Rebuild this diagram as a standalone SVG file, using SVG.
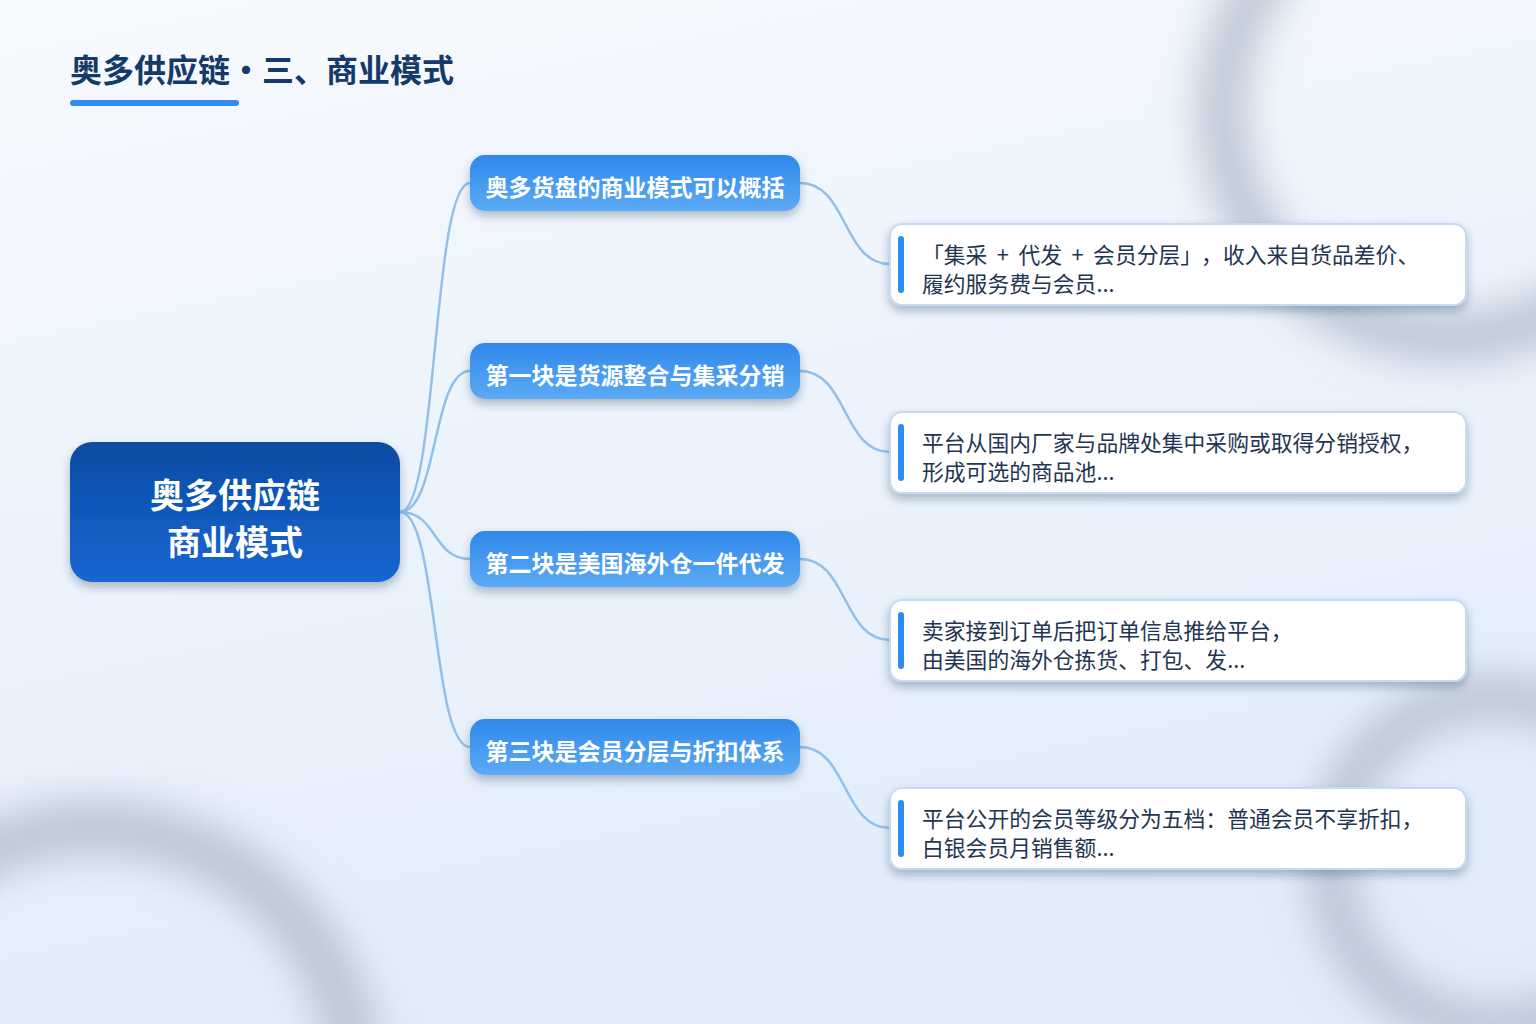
<svg xmlns="http://www.w3.org/2000/svg" width="1536" height="1024" viewBox="0 0 1536 1024">
  <defs>
    <linearGradient id="bg" x1="0" y1="0" x2="0.3" y2="1">
      <stop offset="0" stop-color="#f7fafe"/>
      <stop offset="1" stop-color="#e2edfb"/>
    </linearGradient>
    <linearGradient id="rootGrad" x1="0" y1="0" x2="0" y2="1">
      <stop offset="0" stop-color="#0c4ca1"/>
      <stop offset="1" stop-color="#1666d3"/>
    </linearGradient>
    <linearGradient id="branchGrad" x1="0" y1="0" x2="0" y2="1">
      <stop offset="0" stop-color="#3088ea"/>
      <stop offset="1" stop-color="#5caaf5"/>
    </linearGradient>
    <filter id="blurRing" x="-50%" y="-50%" width="200%" height="200%">
      <feGaussianBlur stdDeviation="20"/>
    </filter>
    <filter id="shadow" x="-10%" y="-20%" width="120%" height="160%">
      <feDropShadow dx="0" dy="5" stdDeviation="5" flood-color="#1e3350" flood-opacity="0.32"/>
    </filter>
    <style>
      .title { font-family: "Noto Sans CJK SC", "Noto Sans", sans-serif; font-weight: 700; font-size: 32px; fill: #143a69; }
      .rootText { font-family: "Noto Sans CJK SC", "Noto Sans", sans-serif; font-weight: 700; font-size: 34px; fill: #ffffff; }
      .branchText { font-family: "Noto Sans CJK SC", "Noto Sans", sans-serif; font-weight: 700; font-size: 23px; fill: #ffffff; }
      .leafText { font-family: "Noto Sans CJK SC", "Noto Sans", sans-serif; font-weight: 400; font-size: 21.8px; fill: #1f3552; }
      .leafBox { fill: #ffffff; stroke: #c3dbf4; stroke-width: 2; }
      .accent { fill: #2f8cf0; }
      .conn { fill: none; stroke: #93c0ea; stroke-width: 2.5; stroke-linecap: round; }
      .ring { fill: none; stroke: #a9b5c5; stroke-opacity: 0.75; }
    </style>
  </defs>

  <!-- background -->
  <rect x="0" y="0" width="1536" height="1024" fill="url(#bg)"/>
  <g id="background-rings" filter="url(#blurRing)">
    <circle class="ring" cx="1450" cy="110" r="228" stroke-width="48"/>
    <circle class="ring" cx="95" cy="1090" r="262" stroke-width="52"/>
    <circle class="ring" cx="1495" cy="862" r="165" stroke-width="44"/>
  </g>

  <!-- title -->
  <g id="title">
    <text class="title" x="70" y="82">奥多供应链・三、商业模式</text>
    <rect x="70" y="100" width="169" height="6" rx="3" fill="#2f8cf0"/>
  </g>

  <!-- connectors -->
  <g id="connectors">
    <path class="conn" d="M400,512 C438,512 432,183 470,183"/>
    <path class="conn" d="M400,512 C438,512 432,371 470,371"/>
    <path class="conn" d="M400,512 C438,512 432,559 470,559"/>
    <path class="conn" d="M400,512 C438,512 432,747 470,747"/>
    <path class="conn" d="M800,183 C848,183 842,264 890,264"/>
    <path class="conn" d="M800,371 C848,371 842,452 890,452"/>
    <path class="conn" d="M800,559 C848,559 842,640 890,640"/>
    <path class="conn" d="M800,747 C848,747 842,828 890,828"/>
  </g>

  <!-- root -->
  <g id="root">
    <rect x="70" y="442" width="330" height="140" rx="22" fill="url(#rootGrad)" filter="url(#shadow)"/>
    <text class="rootText" x="235" y="508" text-anchor="middle">奥多供应链</text>
    <text class="rootText" x="235" y="555" text-anchor="middle">商业模式</text>
  </g>

  <!-- branches -->
  <g id="branch1">
    <rect x="470" y="155" width="330" height="56" rx="15" fill="url(#branchGrad)" filter="url(#shadow)"/>
    <text class="branchText" x="635" y="196" text-anchor="middle">奥多货盘的商业模式可以概括</text>
  </g>
  <g id="branch2">
    <rect x="470" y="343" width="330" height="56" rx="15" fill="url(#branchGrad)" filter="url(#shadow)"/>
    <text class="branchText" x="635" y="384" text-anchor="middle">第一块是货源整合与集采分销</text>
  </g>
  <g id="branch3">
    <rect x="470" y="531" width="330" height="56" rx="15" fill="url(#branchGrad)" filter="url(#shadow)"/>
    <text class="branchText" x="635" y="572" text-anchor="middle">第二块是美国海外仓一件代发</text>
  </g>
  <g id="branch4">
    <rect x="470" y="719" width="330" height="56" rx="15" fill="url(#branchGrad)" filter="url(#shadow)"/>
    <text class="branchText" x="635" y="760" text-anchor="middle">第三块是会员分层与折扣体系</text>
  </g>

  <!-- leaves -->
  <g id="leaf1">
    <rect class="leafBox" x="890" y="224" width="576" height="81" rx="12" filter="url(#shadow)"/>
    <rect class="accent" x="898" y="236" width="6" height="57" rx="3"/>
    <text class="leafText" y="263"><tspan x="922" style="word-spacing:4.6px">「集采 + 代发 + 会员分层」</tspan><tspan x="1201">，</tspan><tspan x="1223">收入来自货品差价、</tspan></text>
    <text class="leafText" x="922" y="292">履约服务费与会员...</text>
  </g>
  <g id="leaf2">
    <rect class="leafBox" x="890" y="412" width="576" height="81" rx="12" filter="url(#shadow)"/>
    <rect class="accent" x="898" y="424" width="6" height="57" rx="3"/>
    <text class="leafText" x="922" y="451">平台从国内厂家与品牌处集中采购或取得分销授权，</text>
    <text class="leafText" x="922" y="480">形成可选的商品池...</text>
  </g>
  <g id="leaf3">
    <rect class="leafBox" x="890" y="600" width="576" height="81" rx="12" filter="url(#shadow)"/>
    <rect class="accent" x="898" y="612" width="6" height="57" rx="3"/>
    <text class="leafText" x="922" y="639">卖家接到订单后把订单信息推给平台，</text>
    <text class="leafText" x="922" y="668">由美国的海外仓拣货、打包、发...</text>
  </g>
  <g id="leaf4">
    <rect class="leafBox" x="890" y="788" width="576" height="81" rx="12" filter="url(#shadow)"/>
    <rect class="accent" x="898" y="800" width="6" height="57" rx="3"/>
    <text class="leafText" x="922" y="827">平台公开的会员等级分为五档：普通会员不享折扣，</text>
    <text class="leafText" x="922" y="856">白银会员月销售额...</text>
  </g>
</svg>
